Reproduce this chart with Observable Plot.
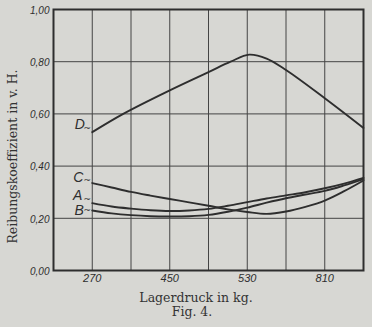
<!DOCTYPE html>
<html><head><meta charset="utf-8">
<script src="https://cdn.jsdelivr.net/npm/d3@7"></script>
<script src="https://cdn.jsdelivr.net/npm/@observablehq/plot@0.6"></script>
<style>
html,body{margin:0;padding:0;background:#d7d7d3;}
#fig{width:372px;height:327px;position:relative;overflow:hidden;background:#d7d7d3;}
#fig svg{position:absolute;left:0;top:0;}
.serif{position:absolute;font-family:"DejaVu Serif","Liberation Serif",serif;color:#333;white-space:nowrap;text-align:center;line-height:13px;}
</style></head><body><div id="fig"></div>
<script>
// Lagerdruck: positions of grid columns and the tick labels printed under them
const tickPositions = [1, 3, 5, 7];
const tickLabels = ["270", "450", "530", "810"];
const yTicks = [0, 0.2, 0.4, 0.6, 0.8, 1.0];
const seriesNames = ["A", "B", "C", "D"];

// Curve samples (x in grid-column units)
const positionsABC = [1, 1.5, 2, 2.5, 3, 3.5, 4, 4.5, 5, 5.5, 6, 6.5, 7, 7.5, 8];
const seriesA = [0.258, 0.245, 0.237, 0.231, 0.228, 0.23, 0.236, 0.248, 0.262, 0.276, 0.288, 0.300, 0.315, 0.333, 0.355];
const seriesB = [0.230, 0.219, 0.212, 0.208, 0.207, 0.208, 0.213, 0.225, 0.241, 0.260, 0.277, 0.291, 0.305, 0.326, 0.350];
const seriesC = [0.335, 0.318, 0.301, 0.287, 0.274, 0.261, 0.248, 0.234, 0.224, 0.217, 0.226, 0.244, 0.268, 0.304, 0.345];
const positionsD = [1, 1.8, 3, 4, 4.57, 5.05, 5.5, 6, 7, 8];
const seriesD = [0.530, 0.600, 0.690, 0.760, 0.800, 0.827, 0.812, 0.768, 0.660, 0.546];

const rows = [];
positionsABC.forEach((p, i) => {
  rows.push({series: "A", pos: p, value: seriesA[i]});
  rows.push({series: "B", pos: p, value: seriesB[i]});
  rows.push({series: "C", pos: p, value: seriesC[i]});
});
positionsD.forEach((p, i) => rows.push({series: "D", pos: p, value: seriesD[i]}));
const starts = seriesNames.map(s => rows.find(r => r.series === s));

const ink = "#2e2e2e";
const labelOffsets = {D: [-12.5, -8], C: [-14, -6], A: [-14.5, -8], B: [-13, 0]};

const labelMarks = seriesNames.flatMap(s => [
  Plot.text(starts.filter(d => d.series === s), {
    x: "pos", y: "value", text: "series", dx: labelOffsets[s][0], dy: labelOffsets[s][1],
    fontSize: 14, fontStyle: "italic", fontFamily: "Liberation Sans, sans-serif", fill: ink
  }),
  Plot.text(starts.filter(d => d.series === s), {
    x: "pos", y: "value", text: () => "~", dx: -5, dy: labelOffsets[s][1] / 2,
    fontSize: 9, fontFamily: "DejaVu Sans, sans-serif", fill: ink
  })
]);

const chart = Plot.plot({
  width: 372, height: 290,
  marginLeft: 53, marginRight: 9, marginTop: 9, marginBottom: 20,
  style: {background: "transparent", color: ink, overflow: "visible"},
  x: {domain: [0, 8]},
  y: {domain: [0, 1]},
  marks: [
    Plot.gridX(d3.range(1, 8), {stroke: "#444", strokeOpacity: 1, strokeWidth: 1}),
    Plot.gridY(yTicks.slice(1, -1), {stroke: "#444", strokeOpacity: 1, strokeWidth: 1}),
    Plot.axisX(tickPositions, {
      tickSize: 0, tickPadding: 4, label: null,
      tickFormat: d => tickLabels[tickPositions.indexOf(d)],
      fontSize: 11, fontStyle: "italic", fontFamily: "Liberation Sans, sans-serif", fill: ink
    }),
    Plot.axisY(yTicks, {
      tickSize: 0, tickPadding: 4, label: null, dy: 1,
      tickFormat: d => d.toFixed(2).replace(".", ","),
      fontSize: 10, fontStyle: "italic", fontFamily: "Liberation Sans, sans-serif", fill: ink
    }),
    Plot.lineY(rows, {x: "pos", y: "value", z: "series", curve: "catmull-rom", stroke: ink, strokeWidth: 1.9}),
    Plot.frame({stroke: ink, strokeWidth: 2}),
    ...labelMarks
  ]
});

const fig = document.getElementById("fig");
fig.appendChild(chart);

const ylab = document.createElement("div");
ylab.className = "serif";
ylab.textContent = "Reibungskoeffizient in v. H.";
Object.assign(ylab.style, {width: "260px", left: "-118px", top: "149.5px", fontSize: "12.5px", transform: "rotate(-90deg)"});
fig.appendChild(ylab);

const xlab = document.createElement("div");
xlab.className = "serif";
xlab.textContent = "Lagerdruck in kg.";
Object.assign(xlab.style, {width: "200px", left: "96px", top: "291px", fontSize: "12.5px"});
fig.appendChild(xlab);

const cap = document.createElement("div");
cap.className = "serif";
cap.textContent = "Fig. 4.";
Object.assign(cap.style, {width: "100px", left: "142px", top: "305px", fontSize: "12.5px"});
fig.appendChild(cap);
</script></body></html>
